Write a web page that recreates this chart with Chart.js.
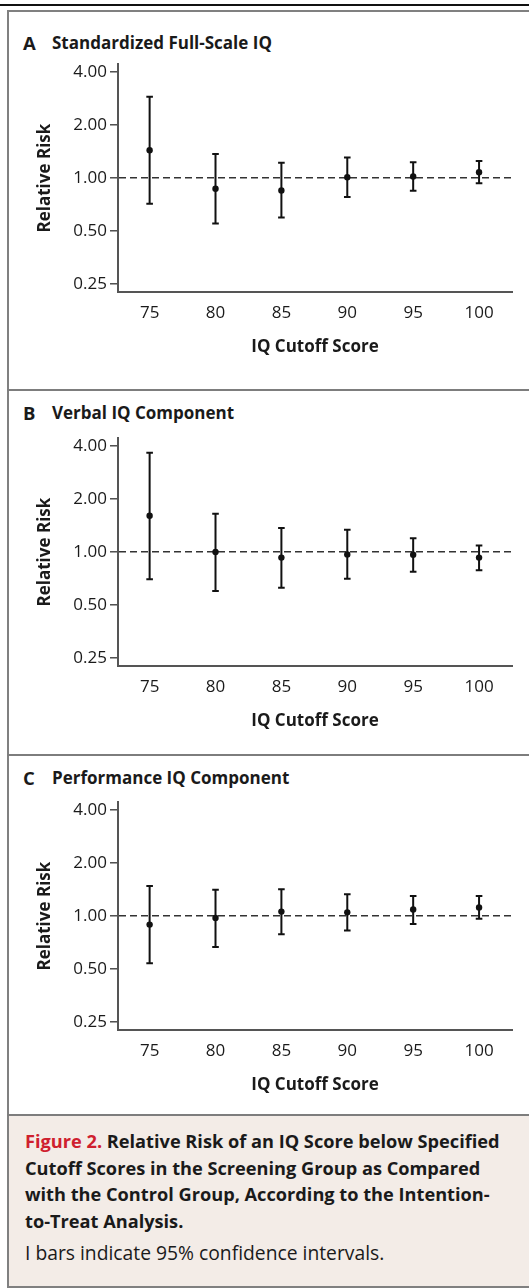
<!DOCTYPE html>
<html>
<head>
<meta charset="utf-8">
<script src="https://cdn.jsdelivr.net/npm/chart.js@4.4.1/dist/chart.umd.min.js"></script>
<style>
html,body{margin:0;padding:0;background:#fff;}
body{width:529px;height:1288px;position:relative;overflow:hidden;font-family:"Open Sans",sans-serif;color:#1a1a1a;}
.topline{position:absolute;left:0;top:3.5px;width:529px;height:2px;background:#111;}
.frame{position:absolute;left:7px;top:10px;width:540px;height:1278px;box-sizing:border-box;border:2px solid #808080;border-right:none;}
.divider{position:absolute;left:7px;width:529px;height:2px;background:#7d7d7d;}
.caption{position:absolute;left:9px;top:1116px;width:520px;height:170px;background:#f3ece7;}
.ptitle{position:absolute;left:52px;font-weight:700;font-size:17px;line-height:20px;white-space:nowrap;}
.plabel{position:absolute;left:23px;font-weight:700;font-size:18.5px;line-height:20px;}
.captitle{position:absolute;left:16px;top:12px;font-weight:700;font-size:18.2px;line-height:26.7px;white-space:nowrap;}
.captitle .red{color:#cf202e;}
.capnote{position:absolute;left:16px;top:124px;font-size:19.3px;line-height:26.7px;white-space:nowrap;}
canvas{position:absolute;left:0;}
</style>
</head>
<body>
<div class="topline"></div>
<div class="frame"></div>
<div class="divider" style="top:389px"></div>
<div class="divider" style="top:754px"></div>
<div class="divider" style="top:1114px"></div>
<div class="caption">
  <div class="captitle"><span class="red">Figure 2.</span> Relative Risk of an IQ Score below Specified<br>Cutoff Scores in the Screening Group as Compared<br>with the Control Group, According to the Intention-<br>to-Treat Analysis.</div>
  <div class="capnote">I bars indicate 95% confidence intervals.</div>
</div>

<div class="plabel" style="top:33px">A</div><div class="ptitle" style="top:33px">Standardized Full-Scale IQ</div>
<div class="plabel" style="top:403px">B</div><div class="ptitle" style="top:403px">Verbal IQ Component</div>
<div class="plabel" style="top:768px">C</div><div class="ptitle" style="top:768px">Performance IQ Component</div>

<canvas id="cA" width="529" height="319" style="top:51px"></canvas>
<canvas id="cB" width="529" height="319" style="top:425px"></canvas>
<canvas id="cC" width="529" height="319" style="top:789px"></canvas>

<script>
// ---- data ----
const cutoffs = [75, 80, 85, 90, 95, 100];
const xTicks = [75, 80, 85, 90, 95, 100];
const yTicks = [0.25, 0.5, 1, 2, 4];

const fullScaleRR = [1.44, 0.87, 0.85, 1.01, 1.02, 1.08];
const fullScaleLo = [0.715, 0.552, 0.597, 0.78, 0.846, 0.934];
const fullScaleHi = [2.90, 1.37, 1.22, 1.31, 1.23, 1.25];

const verbalRR = [1.61, 1.00, 0.93, 0.97, 0.966, 0.93];
const verbalLo = [0.70, 0.60, 0.627, 0.705, 0.772, 0.788];
const verbalHi = [3.67, 1.65, 1.37, 1.34, 1.20, 1.09];

const perfRR = [0.894, 0.975, 1.06, 1.05, 1.09, 1.12];
const perfLo = [0.539, 0.667, 0.789, 0.827, 0.90, 0.966];
const perfHi = [1.48, 1.41, 1.42, 1.33, 1.30, 1.30];

const xTitle = 'IQ Cutoff Score';
const yTitle = 'Relative Risk';

// ---- chart ----
const TXT = '#1a1a1a';
const FONT = 'Open Sans';

function makeChart(id, rr, lo, hi) {
  const datasets = [{
    data: cutoffs.map((x, i) => ({x: x, y: rr[i]})),
    showLine: false,
    pointRadius: 3.2,
    pointBackgroundColor: '#111',
    pointBorderWidth: 0
  }];
  cutoffs.forEach((x, i) => {
    datasets.push({
      data: [{x: x, y: lo[i]}, {x: x, y: hi[i]}],
      showLine: true,
      borderColor: '#111',
      borderWidth: 2,
      pointStyle: 'line',
      pointRadius: 3.3,
      pointBorderWidth: 2,
      pointBorderColor: '#111'
    });
  });
  new Chart(document.getElementById(id), {
    type: 'scatter',
    data: {datasets: datasets},
    options: {
      responsive: false,
      animation: false,
      events: [],
      layout: {padding: {top: 10, right: 17, left: 0, bottom: 0}},
      plugins: {legend: {display: false}, tooltip: {enabled: false}},
      scales: {
        x: {
          type: 'linear', position: 'bottom', min: 72.6, max: 102.5,
          afterBuildTicks: s => { s.ticks = xTicks.map(v => ({value: v})); },
          afterFit: s => { s.height = 78; },
          grid: {display: false, drawTicks: false},
          border: {display: true, color: '#555', width: 2},
          ticks: {padding: 11, color: TXT, font: {family: FONT, size: 17}, autoSkip: false, maxRotation: 0},
          title: {display: true, text: xTitle, color: TXT, font: {family: FONT, size: 17, weight: 'bold'}, padding: {top: 0, bottom: 13}}
        },
        y: {
          type: 'logarithmic', position: 'left', min: 0.225, max: 4.44,
          afterBuildTicks: s => { s.ticks = yTicks.map(v => ({value: v})); },
          afterFit: s => { s.width = 118; },
          grid: {
            display: true, drawOnChartArea: true, drawTicks: true, tickLength: 8,
            color: c => (c.tick && c.tick.value === 1) ? '#333' : 'rgba(0,0,0,0)',
            lineWidth: 1.6, tickColor: '#333', tickWidth: 1.3, tickBorderDash: []
          },
          border: {display: true, color: '#555', width: 2, dash: [7, 4]},
          ticks: {padding: 3, color: TXT, font: {family: FONT, size: 17}, autoSkip: false,
                  callback: v => Number(v).toFixed(2)},
          title: {display: true, text: yTitle, color: TXT, font: {family: FONT, size: 17, weight: 'bold'}, padding: {top: 35, bottom: 0}}
        }
      }
    }
  });
}

makeChart('cA', fullScaleRR, fullScaleLo, fullScaleHi);
makeChart('cB', verbalRR, verbalLo, verbalHi);
makeChart('cC', perfRR, perfLo, perfHi);
</script>
</body>
</html>
